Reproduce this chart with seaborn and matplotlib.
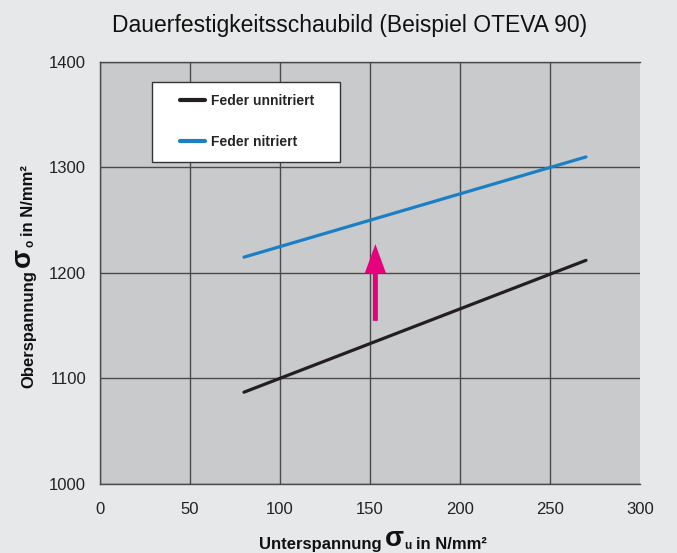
import numpy as np
import pandas as pd
import matplotlib
matplotlib.use("Agg")
import matplotlib.pyplot as plt
from matplotlib.patches import Rectangle, FancyArrowPatch
import seaborn as sns

# Werte
unterspannung = [80, 270]
feder_unnitriert = [1087, 1212]
feder_nitriert = [1215, 1310]
serien = ["Feder unnitriert", "Feder nitriert"]
farben = ["#231f20", "#1a7fc4"]
x_ticks = [0, 50, 100, 150, 200, 250, 300]
y_ticks = [1000, 1100, 1200, 1300, 1400]

# Pfeil (Erhoehung durch Nitrieren)
pfeil_x = 153
pfeil_von = 1152
pfeil_bis = 1230

df = pd.DataFrame({
    "Unterspannung": unterspannung * 2,
    "Oberspannung": feder_unnitriert + feder_nitriert,
    "Serie": [serien[0]] * 2 + [serien[1]] * 2,
})

sns.set_theme(style="white")
plt.rcParams["font.family"] = ["Liberation Sans", "DejaVu Sans"]

bg = "#e7e8e9"
fig, ax = plt.subplots(figsize=(6.77, 5.53), dpi=100)
fig.patch.set_facecolor(bg)
ax.set_facecolor("#c9cacb")
fig.subplots_adjust(left=0.1477, right=0.9453, top=0.8879, bottom=0.1248)

sns.lineplot(data=df, x="Unterspannung", y="Oberspannung", hue="Serie",
             hue_order=serien, palette=farben, linewidth=2.3, ax=ax)

ax.set_xlim(0, 300)
ax.set_ylim(1000, 1400)
ax.set_xticks(x_ticks)
ax.set_yticks(y_ticks)
ax.tick_params(axis="both", labelsize=12, colors="#222222")
ax.tick_params(axis="x", direction="out", length=5, width=1, pad=8, color="#4a4a4a")
ax.tick_params(axis="y", direction="out", length=5, width=1, pad=5, color="#4a4a4a")
ax.grid(True, color="#4a4a4a", linewidth=1.0)
ax.xaxis.get_gridlines()[-1].set_visible(False)
ax.set_axisbelow(True)
for s in ["left", "bottom", "top"]:
    ax.spines[s].set_color("#4a4a4a")
    ax.spines[s].set_linewidth(1.0)
ax.spines["right"].set_visible(False)
ax.set_xlabel("")
ax.set_ylabel("")

# Legende mit eigenem Rahmen
ax.add_patch(Rectangle((0.0963, 0.763), 0.348, 0.19, transform=ax.transAxes,
                       facecolor="white", edgecolor="#333333", linewidth=1.0, zorder=3))
handles, labels = ax.get_legend_handles_labels()
leg = ax.legend(handles, labels, loc="upper left", bbox_to_anchor=(0.148, 0.925),
                frameon=False, borderpad=0, borderaxespad=0, handlelength=1.8,
                handletextpad=0.45, labelspacing=1.95,
                prop={"size": 10, "weight": "bold"})
leg.set_zorder(4)
for h in leg.get_lines():
    h.set_linewidth(3)

arrow = FancyArrowPatch((pfeil_x, pfeil_von), (pfeil_x, pfeil_bis),
                        arrowstyle="simple,head_length=0.52,head_width=0.38,tail_width=0.09",
                        mutation_scale=40, color="#e6007e", linewidth=0, zorder=3)
ax.add_patch(arrow)

fig.text(0.517, 0.953, "Dauerfestigkeitsschaubild (Beispiel OTEVA 90)",
         ha="center", va="center", fontsize=16.5, color="#111111")


def label_kette(teile, x, y, vertikal=False):
    prev = None
    for text, size, gap in teile:
        if prev is None:
            if vertikal:
                prev = fig.text(x, y, text, rotation=90, ha="right", va="bottom",
                                fontsize=size, weight="bold", color="#111111")
            else:
                prev = fig.text(x, y, text, ha="left", va="bottom",
                                fontsize=size, weight="bold", color="#111111")
        else:
            if vertikal:
                prev = ax.annotate(text, xy=(1, 1), xycoords=prev, xytext=(0, gap),
                                   textcoords="offset points", rotation=90,
                                   ha="right", va="bottom", fontsize=size,
                                   weight="bold", color="#111111", annotation_clip=False)
            else:
                prev = ax.annotate(text, xy=(1, 0), xycoords=prev, xytext=(gap, 0),
                                   textcoords="offset points",
                                   ha="left", va="bottom", fontsize=size,
                                   weight="bold", color="#111111", annotation_clip=False)


label_kette([("Unterspannung", 12, 0), ("σ", 20, 2.5), ("u", 8.5, 0.3), ("in N/mm²", 12, 3)],
            0.3826, 0.002)
label_kette([("Oberspannung", 12, 0), ("σ", 20, 2.5), ("o", 8.5, 0.3), ("in N/mm²", 12, 3)],
            0.0532, 0.2984, vertikal=True)

fig.savefig("out.png", dpi=100, facecolor=bg)
